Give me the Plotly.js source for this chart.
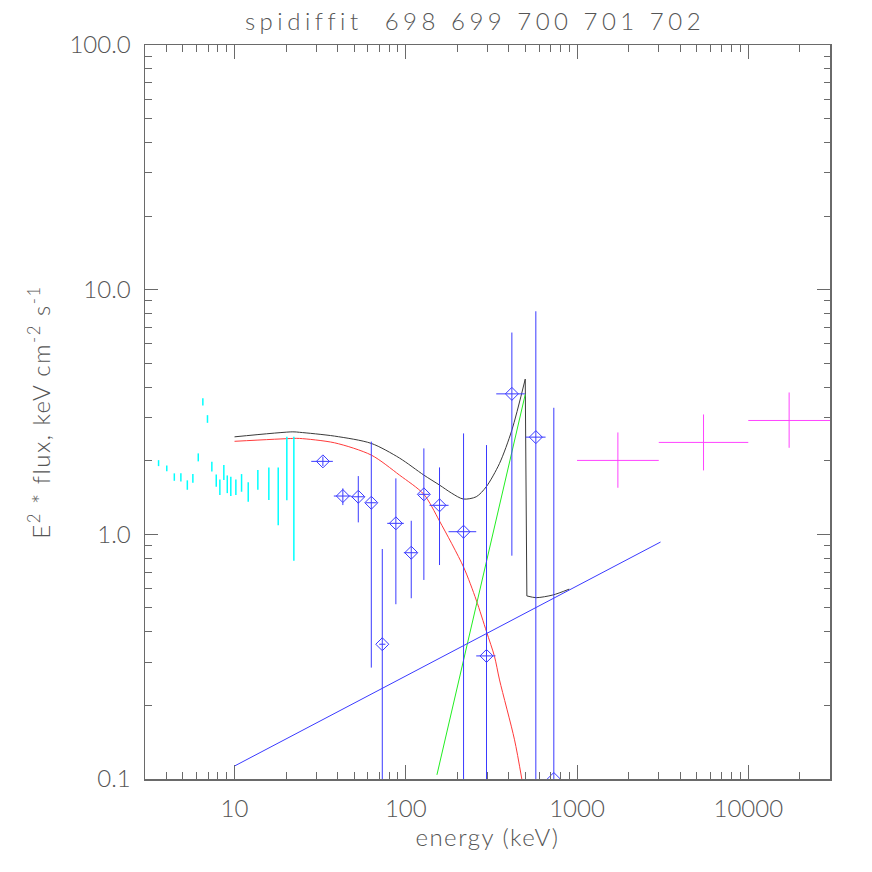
<!DOCTYPE html>
<html>
<head>
<meta charset="utf-8">
<script src="https://cdn.plot.ly/plotly-3.0.1.min.js"></script>
<style>
html,body{margin:0;padding:0;background:#fff;}
#chart{width:872px;height:872px;}
#chart .gtitle{letter-spacing:4.5px;}
#chart .xtitle{letter-spacing:1.5px;}
#chart .ytitle{letter-spacing:1.5px;}
</style>
</head>
<body>
<div id="chart"></div>
<script>
// ---- Data ----
// Low-energy cyan points: energy (keV), lower and upper flux of each vertical bar
const cyanE   = [3.60, 4.02, 4.45, 4.86, 5.30, 5.71, 6.14, 6.53, 6.95, 7.37, 7.82, 8.21, 8.66, 9.07, 9.51, 10.18, 10.99, 12.02, 13.68, 15.86, 17.99, 20.2, 22.2];
const cyanLo  = [1.90, 1.81, 1.655, 1.646, 1.521, 1.624, 1.987, 3.363, 2.856, 1.808, 1.564, 1.447, 1.666, 1.474, 1.434, 1.447, 1.493, 1.359, 1.521, 1.380, 1.088, 1.377, 0.780];
const cyanHi  = [2.01, 1.913, 1.775, 1.775, 1.662, 1.763, 2.142, 3.602, 3.070, 1.979, 1.758, 1.677, 1.919, 1.741, 1.719, 1.677, 1.763, 1.631, 1.830, 1.877, 1.877, 2.503, 2.503];

// SPI points (blue diamonds)
const spiE    = [32.8, 42.9, 52.8, 62.9, 72.9, 87.5, 107.6, 127.5, 157.4, 217.4, 296, 416.3, 574.6, 731.8];
const spiElo  = [28.05, 38.0, 48.0, 58.2, 70.0, 77.9, 97.4, 118.7, 137.6, 177.7, 257.8, 337.5, 500.4, 731.8];
const spiEhi  = [37.5, 48.0, 57.4, 67.7, 76.0, 97.4, 116.7, 137.6, 177.7, 257.8, 334, 495.7, 655, 731.8];
const spiF    = [1.987, 1.434, 1.424, 1.346, 0.3555, 1.109, 0.841, 1.457, 1.314, 1.025, 0.3185, 3.751, 2.496, 0.1];
const spiFlo  = [1.90, 1.317, 1.119, 0.2853, 0.05, 0.518, 0.548, 0.651, 0.749, 0.05, 0.05, 0.818, 0.05, 0.05];
const spiFhi  = [2.08, 1.541, 1.730, 2.393, 0.871, 1.693, 1.136, 2.245, 1.877, 2.585, 2.316, 6.68, 8.16, 3.29];

// High-energy points (magenta crosses)
const hiE     = [1732, 5477, 17320];
const hiElo   = [1000, 3000, 10000];
const hiEhi   = [3000, 10000, 30000];
const hiF     = [2.005, 2.375, 2.92];
const hiFlo   = [1.550, 1.825, 2.258];
const hiFhi   = [2.609, 3.09, 3.80];

// Model curves
// total model: rising part up to the 511 keV edge, then the drop and the tail
const totalE  = [10, 21.9, 23.97, 38.4, 62.9, 91.9, 127.5, 157.4, 185, 216.6, 257.8, 294.9, 352.7, 416.3, 498.3, 509.3, 578, 722, 900];
const totalF  = [2.503, 2.624, 2.612, 2.52, 2.353, 2.05, 1.746, 1.590, 1.474, 1.394, 1.424, 1.564, 1.95, 2.667, 4.31, 0.56, 0.551, 0.565, 0.597];
const totalEdgeIndex = 14;
const cutplE  = [10, 21.9, 23.97, 38.4, 62.9, 91.9, 127.5, 157.4, 217.4, 257.8, 296, 329.8, 352.7, 431.5, 476.0];
const cutplF  = [2.40, 2.466, 2.466, 2.366, 2.108, 1.746, 1.457, 1.133, 0.735, 0.539, 0.4002, 0.3164, 0.254, 0.1446, 0.0999];
const lineE   = [152, 498.3];
const lineF   = [0.104, 3.73];
const plE     = [10, 3073];
const plF     = [0.113, 0.93];

const xTickVals = [10, 100, 1000, 10000];
const xTickText = ['10', '100', '1000', '10000'];
const yTickVals = [0.1, 1, 10, 100];
const yTickText = ['0.1', '1.0', '10.0', '100.0'];

// ---- Build traces ----
const cx = [], cy = [];
for (let i = 0; i < cyanE.length; i++) {
  cx.push(cyanE[i], cyanE[i], null);
  cy.push(cyanLo[i], cyanHi[i], null);
}
function diff(a, b) { return a.map((v, i) => v - b[i]); }

const axisColor = '#6a6a6a';
const fontFam = 'Lato, DejaVu Sans, sans-serif';
const textColor = '#555555';
const blue = '#3a3aff';
const black = '#3a3a3a';

const traces = [
  {x: totalE.slice(0, totalEdgeIndex + 1), y: totalF.slice(0, totalEdgeIndex + 1), mode: 'lines',
   line: {color: black, width: 1, shape: 'spline', smoothing: 0.8}, hoverinfo: 'skip'},
  {x: totalE.slice(totalEdgeIndex, totalEdgeIndex + 2), y: totalF.slice(totalEdgeIndex, totalEdgeIndex + 2), mode: 'lines',
   line: {color: black, width: 1}, hoverinfo: 'skip'},
  {x: totalE.slice(totalEdgeIndex + 1), y: totalF.slice(totalEdgeIndex + 1), mode: 'lines',
   line: {color: black, width: 1, shape: 'spline', smoothing: 0.8}, hoverinfo: 'skip'},
  {x: cutplE, y: cutplF, mode: 'lines', line: {color: '#ff3a3a', width: 1, shape: 'spline', smoothing: 0.8}, hoverinfo: 'skip'},
  {x: lineE, y: lineF, mode: 'lines', line: {color: '#22ee22', width: 1}, hoverinfo: 'skip'},
  {x: plE, y: plF, mode: 'lines', line: {color: blue, width: 1}, hoverinfo: 'skip'},
  {x: cx, y: cy, mode: 'lines', line: {color: '#00ffff', width: 1.5}, connectgaps: false, hoverinfo: 'skip'},
  {x: spiE, y: spiF, mode: 'markers',
   marker: {symbol: 'diamond-open', size: 10, color: blue, line: {width: 1, color: blue}},
   error_x: {type: 'data', symmetric: false, array: diff(spiEhi, spiE), arrayminus: diff(spiE, spiElo), width: 0, color: blue, thickness: 1},
   error_y: {type: 'data', symmetric: false, array: diff(spiFhi, spiF), arrayminus: diff(spiF, spiFlo), width: 0, color: blue, thickness: 1},
   hoverinfo: 'skip'},
  {x: hiE, y: hiF, mode: 'markers', marker: {size: 1, color: '#ff44ff'},
   error_x: {type: 'data', symmetric: false, array: diff(hiEhi, hiE), arrayminus: diff(hiE, hiElo), width: 0, color: '#ff44ff', thickness: 1},
   error_y: {type: 'data', symmetric: false, array: diff(hiFhi, hiF), arrayminus: diff(hiF, hiFlo), width: 0, color: '#ff44ff', thickness: 1},
   hoverinfo: 'skip'}
];

// minor tick positions (digits 2..9 of each decade)
const xMinor = [], yMinor = [];
for (let d = 1; d <= 10000; d *= 10) for (let k = 2; k <= 9; k++) { const v = k * d; if (v > 3 && v < 30000) xMinor.push(v); }
for (let d = 0.1; d <= 10.01; d *= 10) for (let k = 2; k <= 9; k++) yMinor.push(+(k * d).toPrecision(3));

const layout = {
  width: 872, height: 872, autosize: false,
  paper_bgcolor: '#ffffff', plot_bgcolor: '#ffffff',
  margin: {l: 145, r: 42, t: 45, b: 93, pad: 0},
  showlegend: false,
  title: {text: 'spidiffit\u00a0\u00a0698 699 700 701 702', x: 475/872, xanchor: 'center', xref: 'container',
          y: 1 - 22/872, yanchor: 'middle', yref: 'container',
          font: {family: fontFam, size: 24, weight: 300, color: textColor}},
  xaxis: {
    type: 'log', range: [Math.log10(3), Math.log10(30000)],
    tickmode: 'array', tickvals: xTickVals, ticktext: xTickText,
    ticks: 'inside', ticklen: 14, tickwidth: 1, tickcolor: axisColor,
    minor: {tickmode: 'array', tickvals: xMinor, ticks: 'inside', ticklen: 7, tickwidth: 1, tickcolor: axisColor, showgrid: false},
    showline: true, linecolor: axisColor, linewidth: 1.5, mirror: 'ticks',
    showgrid: false, zeroline: false,
    tickfont: {family: fontFam, size: 24, weight: 300, color: textColor},
    ticklabelstandoff: 8,
    title: {text: 'energy (keV)', font: {family: fontFam, size: 24, weight: 300, color: textColor}, standoff: 8}
  },
  yaxis: {
    type: 'log', range: [-1, 2],
    tickmode: 'array', tickvals: yTickVals, ticktext: yTickText,
    ticks: 'inside', ticklen: 13, tickwidth: 1, tickcolor: axisColor,
    minor: {tickmode: 'array', tickvals: yMinor, ticks: 'inside', ticklen: 6.5, tickwidth: 1, tickcolor: axisColor, showgrid: false},
    showline: true, linecolor: axisColor, linewidth: 1.5, mirror: 'ticks',
    showgrid: false, zeroline: false,
    tickfont: {family: fontFam, size: 24, weight: 300, color: textColor},
    ticklabelstandoff: 8,
    title: {text: 'E<sup>2</sup> * flux, keV cm<sup>-2</sup> s<sup>-1</sup>', font: {family: fontFam, size: 24, weight: 300, color: textColor}, standoff: 12}
  }
};

Plotly.newPlot('chart', traces, layout, {staticPlot: true, displayModeBar: false});
</script>
</body>
</html>
